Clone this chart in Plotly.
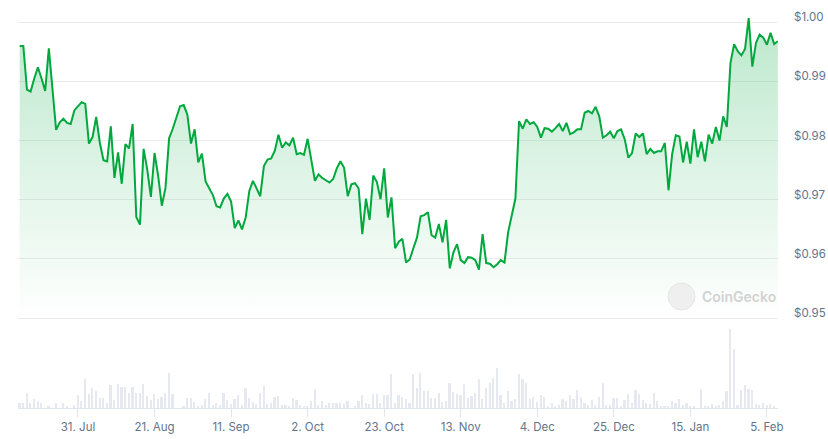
import pandas as pd
import plotly.graph_objects as go

start_date = "2023-07-15"

price = [
    0.9960, 0.9960, 0.9886, 0.9883, 0.9905, 0.9924, 0.9905, 0.9884, 0.9956, 0.9888,
    0.9818, 0.9831, 0.9837, 0.9830, 0.9828, 0.9851, 0.9859, 0.9865, 0.9862, 0.9795,
    0.9806, 0.9840, 0.9796, 0.9767, 0.9765, 0.9824, 0.9737, 0.9780, 0.9727, 0.9794,
    0.9787, 0.9828, 0.9671, 0.9658, 0.9786, 0.9751, 0.9705, 0.9779, 0.9740, 0.9690,
    0.9720, 0.9804, 0.9820, 0.9838, 0.9858, 0.9860, 0.9844, 0.9795, 0.9819, 0.9763,
    0.9778, 0.9731, 0.9718, 0.9708, 0.9689, 0.9687, 0.9702, 0.9710, 0.9697, 0.9652,
    0.9665, 0.9650, 0.9670, 0.9715, 0.9732, 0.9719, 0.9706, 0.9757, 0.9768, 0.9770,
    0.9783, 0.9810, 0.9788, 0.9797, 0.9792, 0.9805, 0.9777, 0.9779, 0.9776, 0.9803,
    0.9765, 0.9732, 0.9743, 0.9737, 0.9733, 0.9729, 0.9735, 0.9753, 0.9765, 0.9754,
    0.9706, 0.9726, 0.9728, 0.9719, 0.9642, 0.9702, 0.9666, 0.9741, 0.9730, 0.9701,
    0.9753, 0.9670, 0.9704, 0.9618, 0.9629, 0.9634, 0.9594, 0.9599, 0.9618, 0.9636,
    0.9672, 0.9674, 0.9679, 0.9640, 0.9636, 0.9659, 0.9628, 0.9666, 0.9584, 0.9611,
    0.9625, 0.9598, 0.9593, 0.9603, 0.9602, 0.9598, 0.9582, 0.9642, 0.9593, 0.9592,
    0.9586, 0.9591, 0.9598, 0.9594, 0.9645, 0.9673, 0.9702, 0.9833, 0.9820, 0.9836,
    0.9828, 0.9831, 0.9823, 0.9805, 0.9821, 0.9820, 0.9815, 0.9821, 0.9828, 0.9816,
    0.9830, 0.9811, 0.9814, 0.9819, 0.9819, 0.9847, 0.9850, 0.9846, 0.9857, 0.9841,
    0.9805, 0.9809, 0.9815, 0.9804, 0.9816, 0.9819, 0.9802, 0.9771, 0.9779, 0.9812,
    0.9806, 0.9812, 0.9777, 0.9786, 0.9779, 0.9782, 0.9782, 0.9796, 0.9716, 0.9777,
    0.9809, 0.9807, 0.9763, 0.9798, 0.9761, 0.9819, 0.9772, 0.9798, 0.9765, 0.9810,
    0.9795, 0.9823, 0.9800, 0.9841, 0.9823, 0.9931, 0.9963, 0.9951, 0.9944, 0.9955,
    1.0007, 0.9925, 0.9965, 0.9979, 0.9974, 0.9962, 0.9982, 0.9963, 0.9968,
]

volume_musd = [
    4.3, 4.3, 14.3, 5, 8.3, 6.3, 4.3, 0, 1, 0,
    4.3, 0, 5, 1, 0, 2.3, 12.3, 6.3, 29, 13.3,
    19.3, 16.7, 9.3, 9.3, 4.3, 22.7, 7.3, 23.3, 20.3, 20.3,
    15, 21, 14.3, 14.3, 23.3, 11.7, 7.3, 13.3, 8.3, 10.3,
    15, 35, 13.3, 0, 0, 1, 10, 9.3, 5.7, 1,
    2.3, 8.3, 14.3, 2.3, 5, 2.3, 15, 7.3, 3.3, 8.3,
    12.3, 2.3, 19.3, 9.3, 5.7, 3.3, 15, 21.3, 3.3, 5,
    10.3, 11.7, 2.3, 2.3, 1, 9.3, 7.3, 2.3, 1, 1,
    6.3, 18.3, 2.3, 6.3, 2.3, 5, 4.3, 4.3, 4.3, 3.3,
    6.3, 0, 1, 6.3, 12.3, 5, 3.3, 13.3, 13.3, 5,
    12.3, 12.3, 33.3, 5, 12.3, 10.3, 8.3, 5, 33.3, 19.3,
    35, 16.3, 16.3, 9.3, 9.3, 14.3, 5.7, 6.3, 24.3, 15.3,
    13.7, 12.3, 23.3, 9.3, 11.7, 14.3, 28.3, 8.3, 19.3, 24.3,
    30, 40, 12.3, 4.3, 16.3, 6.3, 8.3, 33.3, 28.3, 24.3,
    8.3, 11, 5.7, 12.3, 10.3, 1.7, 5, 1, 2.3, 8.3,
    6.3, 12.3, 8.3, 17.3, 10.3, 4.3, 2.3, 7.3, 2.3, 11,
    24.3, 2.3, 2.3, 9.3, 9.3, 1, 7.3, 13.3, 4.3, 17.3,
    13.3, 7.3, 5, 3.3, 14.3, 6.3, 1, 1.7, 1, 6.3,
    5, 8.3, 2.3, 4.3, 1, 1, 0, 18.3, 1, 1,
    3.3, 1, 2.3, 6.3, 16.3, 78.3, 58.3, 2.3, 17.3, 22.3,
    18.3, 17.3, 3.3, 2.3, 5, 2.3, 3.3, 1, 0,
]

x_tick_dates = ["2023-07-31", "2023-08-21", "2023-09-11", "2023-10-02", "2023-10-23",
                "2023-11-13", "2023-12-04", "2023-12-25", "2024-01-15", "2024-02-05"]
x_tick_labels = ["31. Jul", "21. Aug", "11. Sep", "2. Oct", "23. Oct",
                 "13. Nov", "4. Dec", "25. Dec", "15. Jan", "5. Feb"]
y_tick_values = [0.95, 0.96, 0.97, 0.98, 0.99, 1.00]
y_tick_labels = ["$0.95", "$0.96", "$0.97", "$0.98", "$0.99", "$1.00"]

price_dates = pd.date_range(start_date, periods=len(price), freq="D")
volume_dates = pd.date_range(start_date, periods=len(volume_musd), freq="D")

GREEN = "#00a83e"
LABEL = "#64748b"
GRID = "#ececec"

fig = go.Figure()

fig.add_trace(go.Bar(
    x=volume_dates, y=volume_musd, yaxis="y2",
    marker=dict(color="#e6e9ef", line=dict(width=0)),
    width=0.47 * 86400000, hoverinfo="skip", showlegend=False,
))

fig.add_trace(go.Scatter(
    x=price_dates, y=price, yaxis="y", mode="lines",
    line=dict(color=GREEN, width=2),
    fill="tozeroy",
    fillgradient=dict(
        type="vertical",
        colorscale=[[0, "rgba(0,168,62,0.0)"], [1, "rgba(0,168,62,0.26)"]],
        start=0.95, stop=1.0,
    ),
    showlegend=False,
))

x_start = price_dates[0] - pd.Timedelta(hours=11)
x_end = price_dates[-1] + pd.Timedelta(hours=1)

fig.update_layout(
    width=828, height=439,
    margin=dict(l=18, r=50, t=10, b=31, autoexpand=False),
    paper_bgcolor="white", plot_bgcolor="white",
    font=dict(family="Inter, sans-serif", size=11, color=LABEL),
    bargap=0,
    xaxis=dict(
        type="date", range=[x_start, x_end], anchor="y2", automargin=False,
        tickvals=x_tick_dates, ticktext=x_tick_labels,
        ticks="outside", ticklen=8, tickcolor="#e1e5ec",
        showline=True, linecolor="#e1e5ec", linewidth=1,
        showgrid=False, zeroline=False,
        tickfont=dict(size=11.5, color=LABEL),
    ),
    yaxis=dict(
        domain=[0.2229, 1.0], range=[0.9498, 1.00207], side="right",
        automargin=False,
        tickvals=y_tick_values, ticktext=y_tick_labels,
        showgrid=True, gridcolor=GRID, gridwidth=1,
        zeroline=False, showline=False, ticks="",
        ticklabelstandoff=15, ticklabelshift=-5,
        tickfont=dict(size=11.5, color=LABEL),
    ),
    yaxis2=dict(
        domain=[0.0, 0.2229], range=[0, max(volume_musd) * 1.133],
        visible=False,
    ),
    shapes=[dict(
        type="circle", xref="paper", yref="paper",
        x0=0.8553, x1=0.8908, y0=0.2462, y1=0.3141,
        fillcolor="#efefef", line=dict(color="#e6e6e6", width=1), layer="above",
    )],
    annotations=[dict(
        text="CoinGecko", xref="paper", yref="paper",
        x=0.898, y=0.280, xanchor="left", yanchor="middle", showarrow=False,
        font=dict(size=14, color="#d2d2d2", family="Inter, sans-serif", weight=600),
    )],
)

fig.write_html("out.html")
